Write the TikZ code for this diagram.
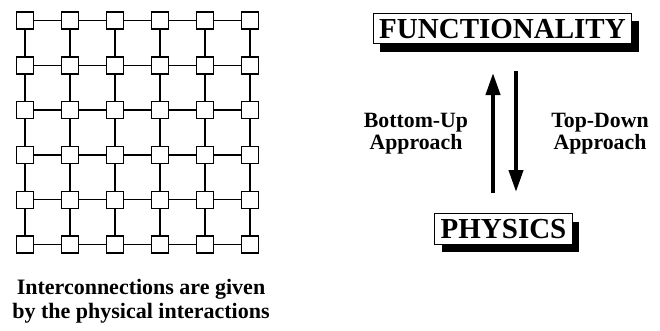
\documentclass[tikz,border=0pt]{standalone}
\usepackage{fontspec}
\setmainfont{Liberation Serif}
\usetikzlibrary{arrows.meta,shadows}
\begin{document}
\begin{tikzpicture}[x=1pt,y=-1pt,
  cell/.style={draw,line width=1.4pt,minimum size=17pt,inner sep=0pt,fill=white},
  wire/.style={line width=1.4pt},
  titlebox/.style={draw,line width=1.1pt,fill=white,
    font=\fontsize{29}{32}\selectfont\bfseries,
    inner xsep=6pt,inner ysep=5.5pt,text height=19.5pt,text depth=0pt,
    drop shadow={shadow xshift=7pt,shadow yshift=-8pt,opacity=1,fill=black}},
  lbl/.style={font=\fontsize{21.8}{22}\selectfont\bfseries,align=center,inner sep=0pt},
  caption/.style={font=\fontsize{22}{24}\selectfont\bfseries,align=center,inner sep=0pt},
  bigarrow/.style={line width=4pt,-{Triangle[width=14pt,length=22pt]}}
]
\useasboundingbox (0,0) rectangle (660,330);
% grid of cells
\foreach \i in {0,...,5}
  \foreach \j in {0,...,5}
    \node[cell] (g\i\j) at ({25+45*\i},{20.5+44.8*\j}) {};
\foreach \a/\b in {0/1,1/2,2/3,3/4,4/5}
  \foreach \j in {0,...,5} {
    \draw[wire] (g\a\j) -- (g\b\j);
    \draw[wire] (g\j\a) -- (g\j\b);
  }
\node[caption] (cap) at (141,301) {Interconnections are given\\by the physical interactions};
% right part
\node[titlebox] (func) at (502.5,28.5) {FUNCTIONALITY};
\node[titlebox] (phys) at (503.5,229) {PHYSICS};
\coordinate (upS) at (493,193);
\coordinate (upE) at (493,73);
\coordinate (dnS) at (516,71);
\coordinate (dnE) at (516,192);
\draw[bigarrow] (upS) -- (upE);
\draw[bigarrow] (dnS) -- (dnE);
\node[lbl] (bu) at (416,133.5) {Bottom-Up\\Approach};
\node[lbl] (td) at (600,133.5) {Top-Down\\Approach};
\end{tikzpicture}
\end{document}
